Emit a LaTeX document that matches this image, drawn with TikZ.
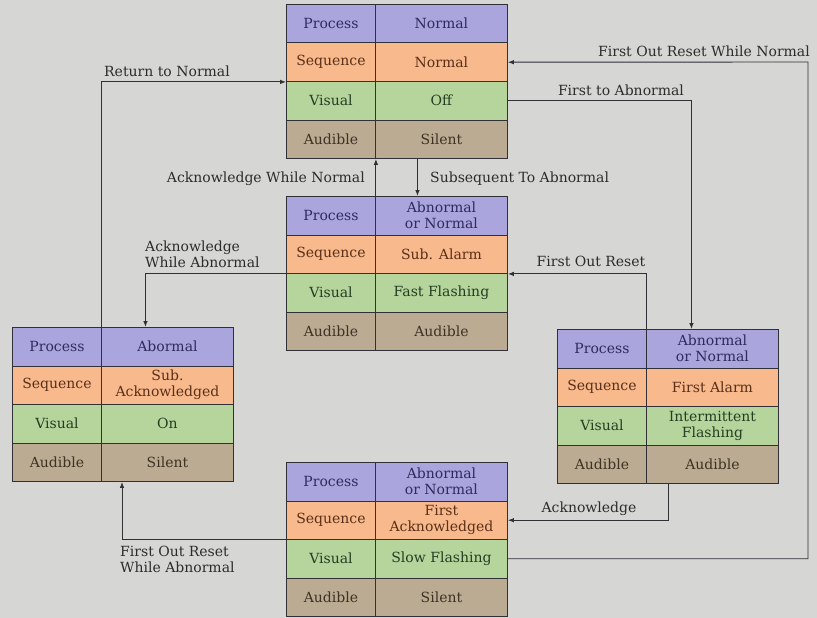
\documentclass[tikz,border=0pt]{standalone}
\usepackage{fontspec}
\setmainfont{DejaVu Serif}
\usetikzlibrary{arrows.meta}

\definecolor{bgc}{HTML}{D6D6D4}
\definecolor{linec}{HTML}{303036}
\definecolor{labtext}{HTML}{2C2C2C}
\definecolor{prcfill}{HTML}{AAA5DC}
\definecolor{prctext}{HTML}{2E2C5E}
\definecolor{sqnfill}{HTML}{F8B98C}
\definecolor{sqntext}{HTML}{5A3018}
\definecolor{visfill}{HTML}{B5D59C}
\definecolor{vistext}{HTML}{223F22}
\definecolor{audfill}{HTML}{BAAB92}
\definecolor{audtext}{HTML}{3E3224}

\begin{document}
\begin{tikzpicture}[x=1pt,y=-1pt]
		\tikzset{cell/.style={draw=linec, line width=0.9pt, inner sep=0pt, anchor=north west,
				minimum height=38.5pt, align=center, font=\fontsize{14}{16}\selectfont},
			lab/.style={cell, minimum width=89pt},
			val/.style={cell, minimum width=132pt},
			prc/.style={fill=prcfill, text=prctext},
			sqn/.style={fill=sqnfill, text=sqntext},
			vis/.style={fill=visfill, text=vistext},
			aud/.style={fill=audfill, text=audtext},
			lbl/.style={text=labtext, inner sep=0pt, font=\fontsize{14}{16}\selectfont},
			wire/.style={draw=linec, line width=0.9pt, -{Latex[length=6pt,width=4.5pt]}}}
\fill[bgc] (0,0) rectangle (817,618);
\useasboundingbox (0,0) rectangle (817,618);

\foreach \t/\x/\y/\pa/\sb/\vc/\ad in {norm/286/4/Normal/Normal/Off/Silent,
	sub/286/196/Abnormal\\or Normal/Sub. Alarm/Fast Flashing/Audible,
	subk/12/327/Abormal/Sub.\\Acknowledged/On/Silent,
	first/557/329/Abnormal\\or Normal/First Alarm/Intermittent\\Flashing/Audible,
	firstk/286/462/Abnormal\\or Normal/First\\Acknowledged/Slow Flashing/Silent}
{
	\node[lab,prc] (\t1) at (\x,\y) {Process};
	\node[val,prc] (\t1v) at (\x+89,\y) {\pa};
	\node[lab,sqn] (\t2) at (\x,\y+38.5) {Sequence};
	\node[val,sqn] (\t2v) at (\x+89,\y+38.5) {\sb};
	\node[lab,vis] (\t3) at (\x,\y+77) {Visual};
	\node[val,vis] (\t3v) at (\x+89,\y+77) {\vc};
	\node[lab,aud] (\t4) at (\x,\y+115.5) {Audible};
	\node[val,aud] (\t4v) at (\x+89,\y+115.5) {\ad};
}

\coordinate (rtop) at (808,62);

\draw[wire] (subk1.north east) |- (norm2.south west);
\draw[wire] (firstk3v.east) -| (rtop) -- (norm2v.east);
\draw[wire] (norm3v.east) -| ([xshift=-21pt]first1v.north);
\draw[wire] ([xshift=-24pt]norm4v.south) -- ([xshift=-24pt]sub1v.north);
\draw[wire] (sub1.north east) -- (norm4.south east);
\draw[wire] (sub2.south west) -| ([xshift=-22pt]subk1v.north);
\draw[wire] (first1.north east) |- (sub2v.south east);
\draw[wire] ([xshift=22pt]first4v.south west) |- (firstk2v.east);
\draw[wire] (firstk2.south west) -| ([xshift=21pt]subk4v.south west);

\node[lbl] (rn) at (167,71) {Return to Normal};
\node[lbl, anchor=east] (forwn) at (810,51) {First Out Reset While Normal};
\node[lbl] (fta) at (621,90) {First to Abnormal};
\node[lbl, anchor=east] (awn) at (365,179) {Acknowledge While Normal};
\node[lbl, anchor=west] (sta) at (430,179) {Subsequent To Abnormal};
\node[lbl, anchor=west, align=left] (awa) at (145,254) {Acknowledge\\While Abnormal};
\node[lbl] (fr) at (591,261) {First Out Reset};
\node[lbl] (ack) at (589,509) {Acknowledge};
\node[lbl, anchor=west, align=left] (forwa) at (120,559) {First Out Reset\\While Abnormal};

		\end{tikzpicture}
\end{document}
